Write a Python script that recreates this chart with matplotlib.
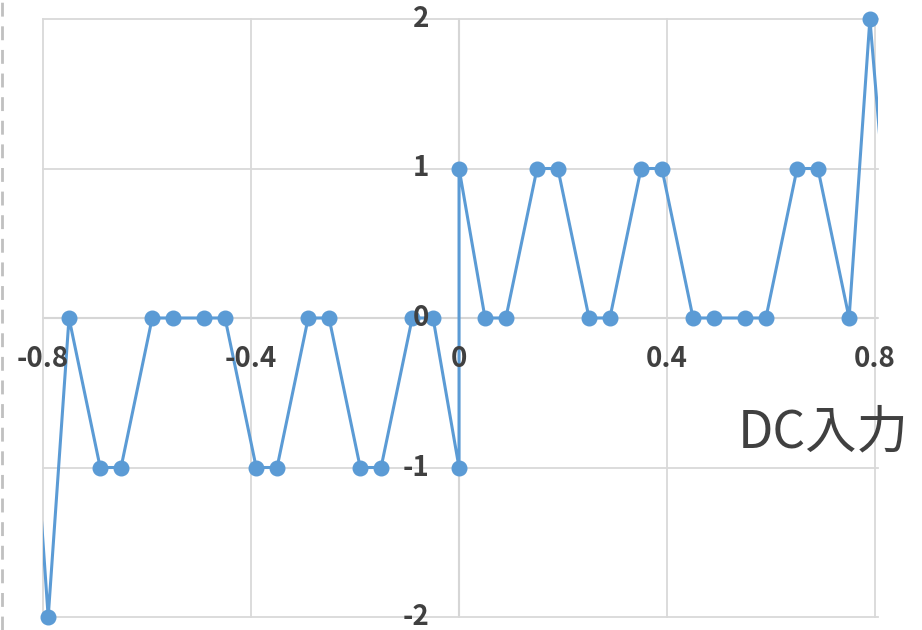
#!/usr/bin/env python3
"""DC入力 に対する出力の折れ線グラフ (Excel風)."""

import matplotlib
matplotlib.use("Agg")
import matplotlib.pyplot as plt
from matplotlib.lines import Line2D

plt.rcParams["font.family"] = ["Noto Sans CJK JP", "DejaVu Sans"]

# データ
dc_in = [-0.85, -0.79, -0.75, -0.69, -0.65, -0.59, -0.55, -0.49, -0.45,
         -0.39, -0.35, -0.29, -0.25, -0.19, -0.15, -0.09, -0.05,
         0.0, 0.0,
         0.05, 0.09, 0.15, 0.19, 0.25, 0.29, 0.35, 0.39, 0.45, 0.49,
         0.55, 0.59, 0.65, 0.69, 0.75, 0.79, 0.85]
output = [1, -2, 0, -1, -1, 0, 0, 0, 0,
          -1, -1, 0, 0, -1, -1, 0, 0,
          -1, 1,
          0, 0, 1, 1, 0, 0, 1, 1, 0, 0,
          0, 0, 1, 1, 0, 2, -0.5]

x_ticks = [-0.8, -0.4, 0.0, 0.4, 0.8]
x_tick_labels = ["-0.8", "-0.4", "0", "0.4", "0.8"]
y_ticks = [-2, -1, 0, 1, 2]
y_tick_labels = ["-2", "-1", "0", "1", "2"]
x_title = "DC入力"

X_MIN, X_MAX = -0.8, 0.805
Y_MIN, Y_MAX = -2, 2

BLUE = "#5B9BD5"
GRID = "#d9d9d9"
AXIS = "#bfbfbf"
TEXT = "#404040"

W, H = 922, 630
fig = plt.figure(figsize=(W / 100, H / 100), dpi=100)
ax = fig.add_axes([43 / W, 1 - 617 / H, (877.7 - 43) / W, (617 - 19) / H])
ax.set_xlim(X_MIN, X_MAX)
ax.set_ylim(Y_MIN, Y_MAX)
for s in ax.spines.values():
    s.set_visible(False)

ax.set_xticks(x_ticks)
ax.set_yticks(y_ticks)
ax.tick_params(length=0, labelbottom=False, labelleft=False)
ax.grid(True, color=GRID, linewidth=1.3)
for gl in ax.get_xgridlines() + ax.get_ygridlines():
    gl.set_clip_on(False)

ax.axhline(0, color=AXIS, linewidth=1.5, zorder=1.5)
ax.axvline(0, color=AXIS, linewidth=1.5, zorder=1.5)

# 線 (プロット領域でクリップ) とマーカー
ax.plot(dc_in, output, color=BLUE, linewidth=2.2, zorder=3)
mx = [x for x in dc_in if X_MIN - 1e-9 <= x <= 0.8 + 1e-9]
my = [y for x, y in zip(dc_in, output) if X_MIN - 1e-9 <= x <= 0.8 + 1e-9]
ax.plot(mx, my, linestyle="none", marker="o", markersize=10.5,
        color=BLUE, clip_on=False, zorder=4)

# 目盛ラベル (軸の隣)
for xv, lab in zip(x_ticks, x_tick_labels):
    ax.annotate(lab, (xv, 0), xytext=(0, -27), textcoords="offset pixels",
                ha="center", va="top", fontsize=20, fontweight="bold",
                color=TEXT, zorder=10, annotation_clip=False)
for yv, lab in zip(y_ticks, y_tick_labels):
    ax.annotate(lab, (0, yv), xytext=(-30, 0), textcoords="offset pixels",
                ha="right", va="center", fontsize=20, fontweight="bold",
                color=TEXT, zorder=10, annotation_clip=False)

fig.text(823 / W, 1 - 433 / H, x_title, ha="center", va="center",
         fontsize=37, color=TEXT)

# 左端の破線
fig.add_artist(Line2D([1.5 / W, 1.5 / W], [0, 1], transform=fig.transFigure,
                      color="#c0c0c0", linewidth=2, linestyle=(0, (5, 3.5))))

fig.savefig("out.png", dpi=100)
